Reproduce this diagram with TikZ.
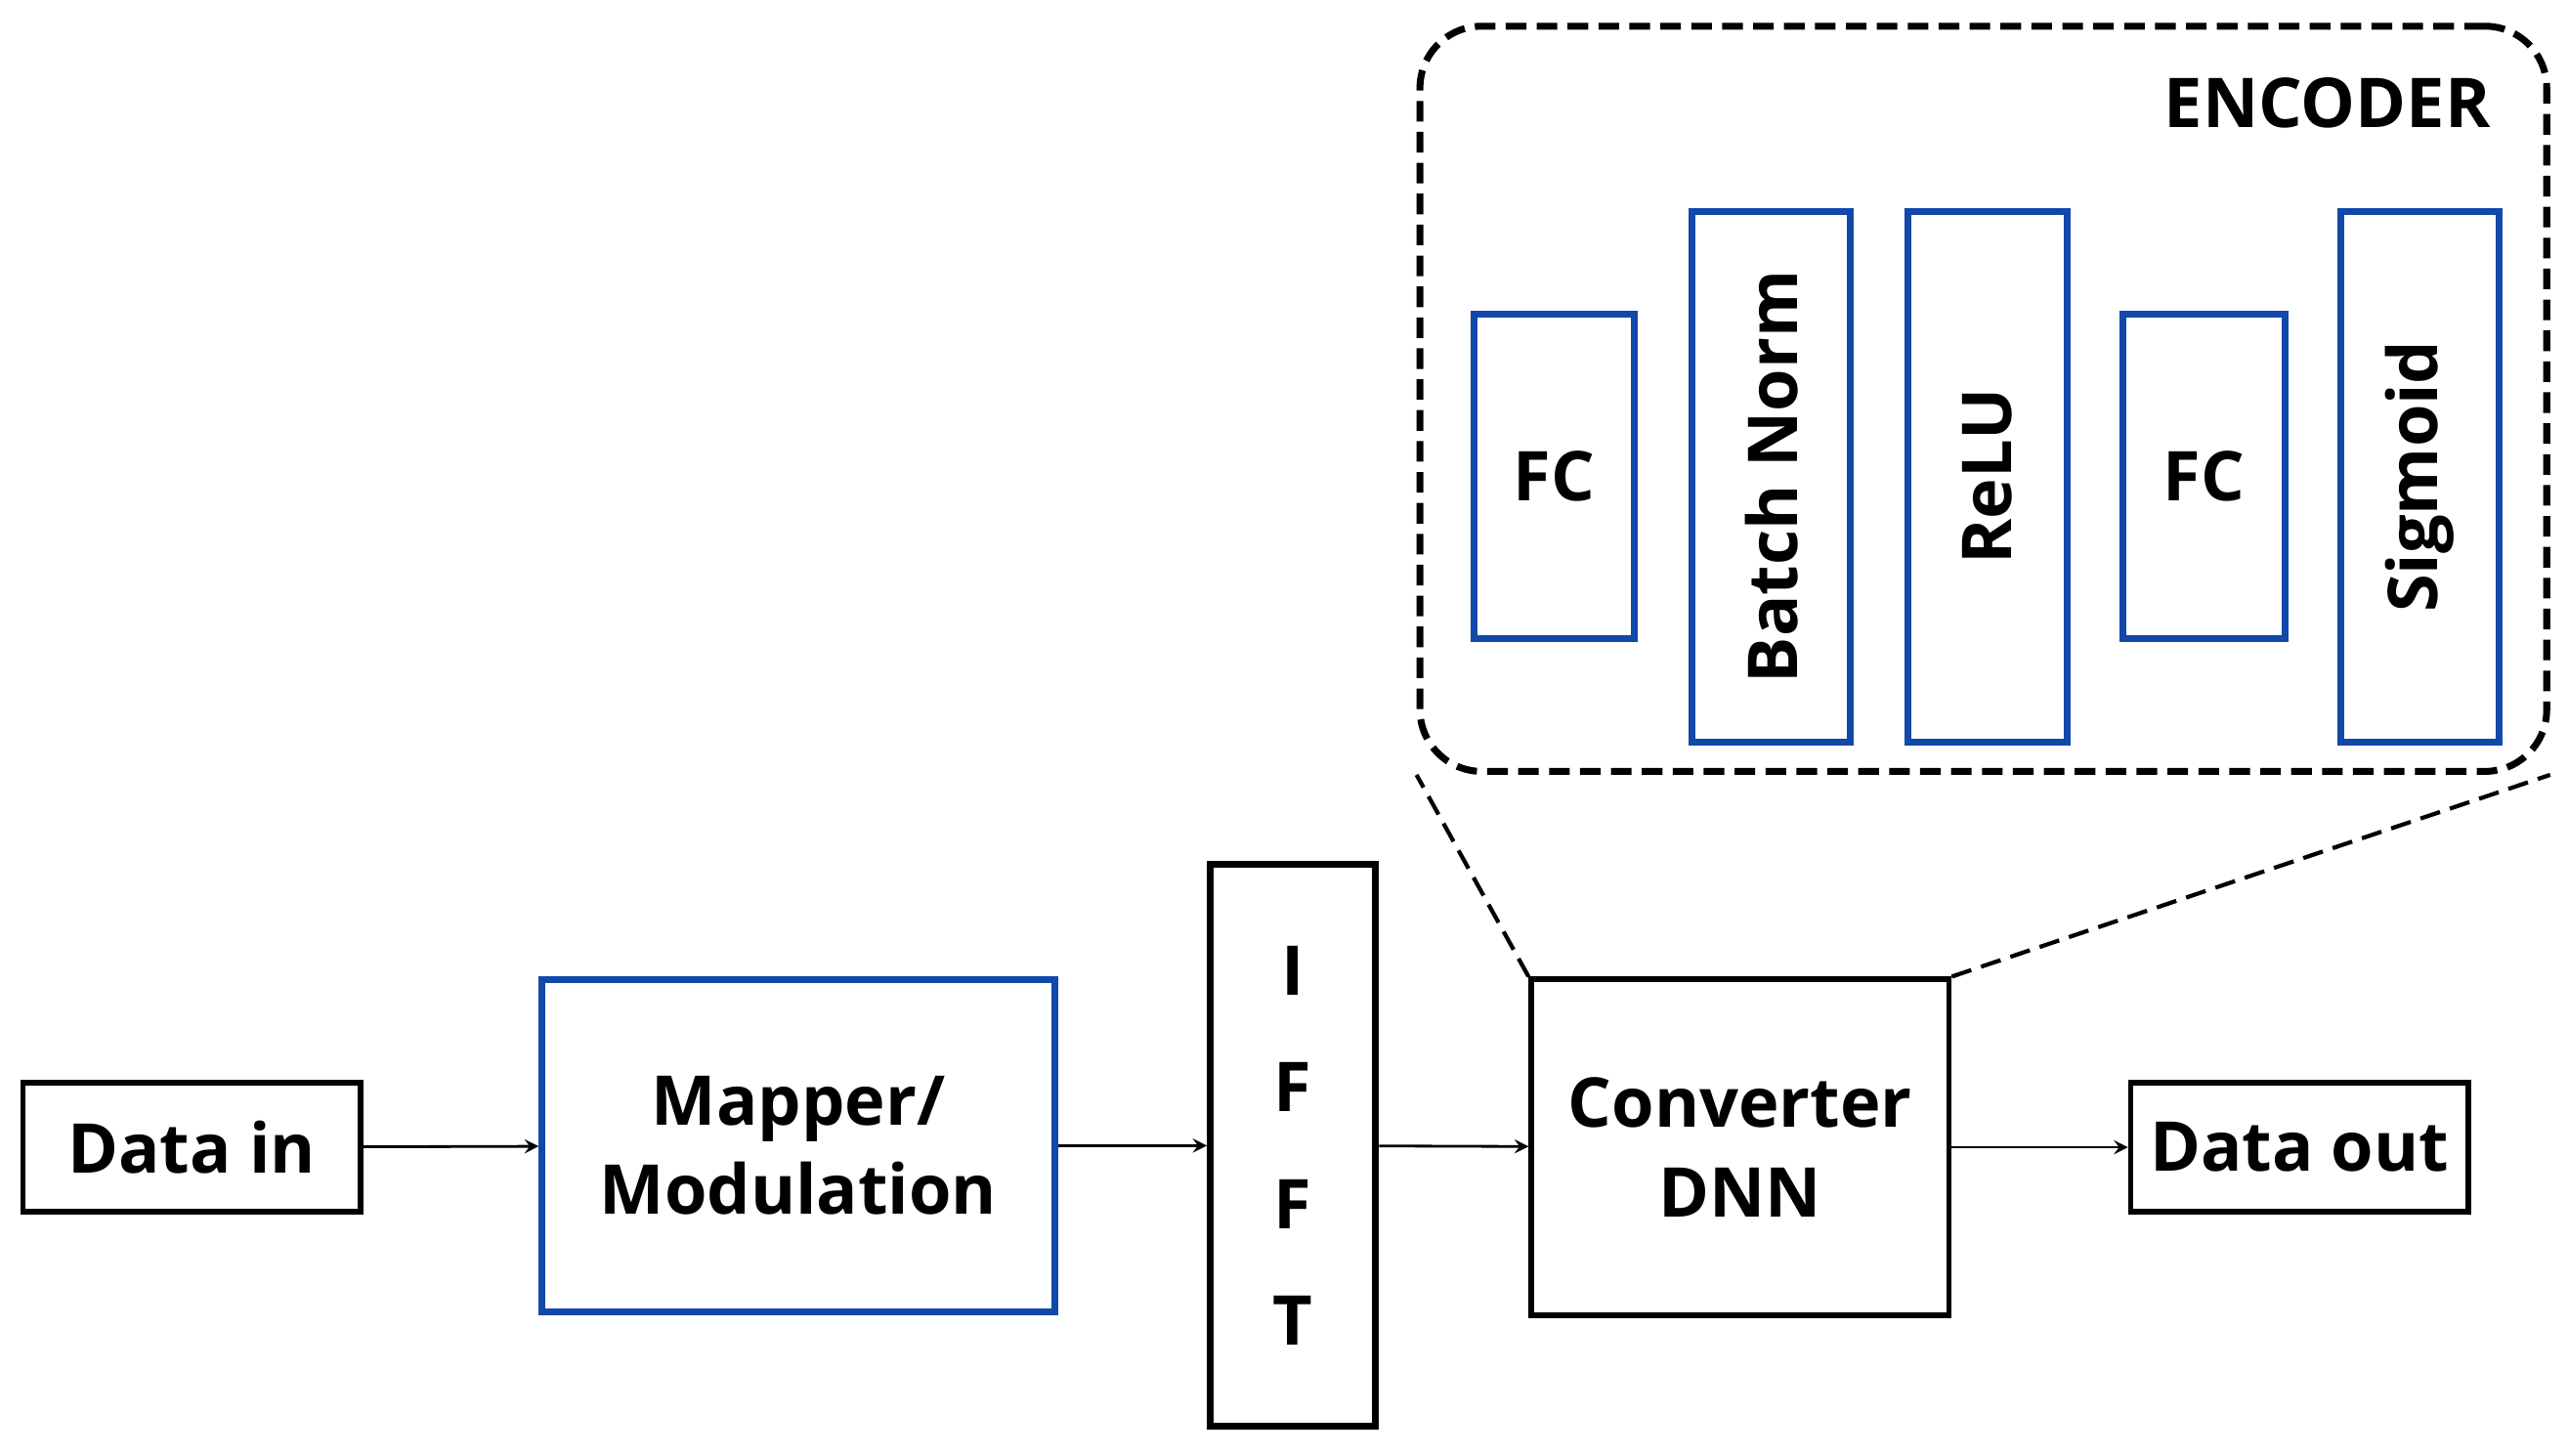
\documentclass[tikz,border=0pt]{standalone}
\usepackage{fontspec}
\setmainfont{Open Sans}
\usepackage{tikz}
\definecolor{boxblue}{RGB}{18,72,170}
\tikzset{
  blk/.style={draw, line width=1.6pt, inner sep=0pt, font=\fontsize{20}{26}\selectfont\bfseries, align=center},
  bluebox/.style={blk, draw=boxblue, line width=2pt},
  flow/.style={-stealth, line width=0.8pt},
  zoomline/.style={line width=1.2pt, dash pattern=on 6pt off 3pt}
}
\begin{document}
\begin{tikzpicture}[x=0.01676cm, y=-0.01676cm]
      \useasboundingbox (0,0) rectangle (1568,889);
      % Main chain
      \node[blk, minimum width=206*0.01676cm, minimum height=79*0.01676cm] (datain) at (117,700.5) {Data in};
      \node[bluebox, minimum width=313*0.01676cm, minimum height=203*0.01676cm] (mapper) at (487.5,699.5) {Mapper/\\Modulation};
      \node[blk, line width=2pt, minimum width=101*0.01676cm, minimum height=343*0.01676cm] (ifft) at (789.5,699.5) {I\\[8pt]F\\[8pt]F\\[8pt]T};
      \node[blk, minimum width=255*0.01676cm, minimum height=205*0.01676cm] (conv) at (1062.5,700.5) {Converter\\DNN};
      \node[blk, minimum width=206*0.01676cm, minimum height=79*0.01676cm] (dataout) at (1404,700.5) {Data out};
      \draw[flow] (datain) -- (mapper);
      \draw[flow] (mapper) -- (ifft);
      \draw[flow] (ifft) -- (conv);
      \draw[flow] (conv) -- (dataout);
      % Encoder
      \node[draw, zoomline, line width=2pt, rounded corners=18pt, minimum width=688*0.01676cm, minimum height=455*0.01676cm] (enc) at (1211,243.5) {};
      \node[font=\fontsize{20}{24}\selectfont\bfseries, anchor=north east] (enclabel) at (1528,40) {ENCODER};
      \node[bluebox, minimum width=98*0.01676cm, minimum height=198*0.01676cm] (fca) at (949,291) {FC};
      \node[bluebox, minimum width=324*0.01676cm, minimum height=97*0.01676cm, rotate=90] (bn) at (1081.5,291) {Batch Norm};
      \node[bluebox, minimum width=324*0.01676cm, minimum height=97*0.01676cm, rotate=90] (relu) at (1213.5,291) {ReLU};
      \node[bluebox, minimum width=99*0.01676cm, minimum height=198*0.01676cm] (fcb) at (1345.5,291) {FC};
      \node[bluebox, minimum width=324*0.01676cm, minimum height=97*0.01676cm, rotate=90] (sig) at (1477.5,291) {Sigmoid};
      % Zoom lines
      \draw[zoomline] (conv.north west) -- (enc.south west);
      \draw[zoomline] (conv.north east) -- (enc.south east);
\end{tikzpicture}
\end{document}
